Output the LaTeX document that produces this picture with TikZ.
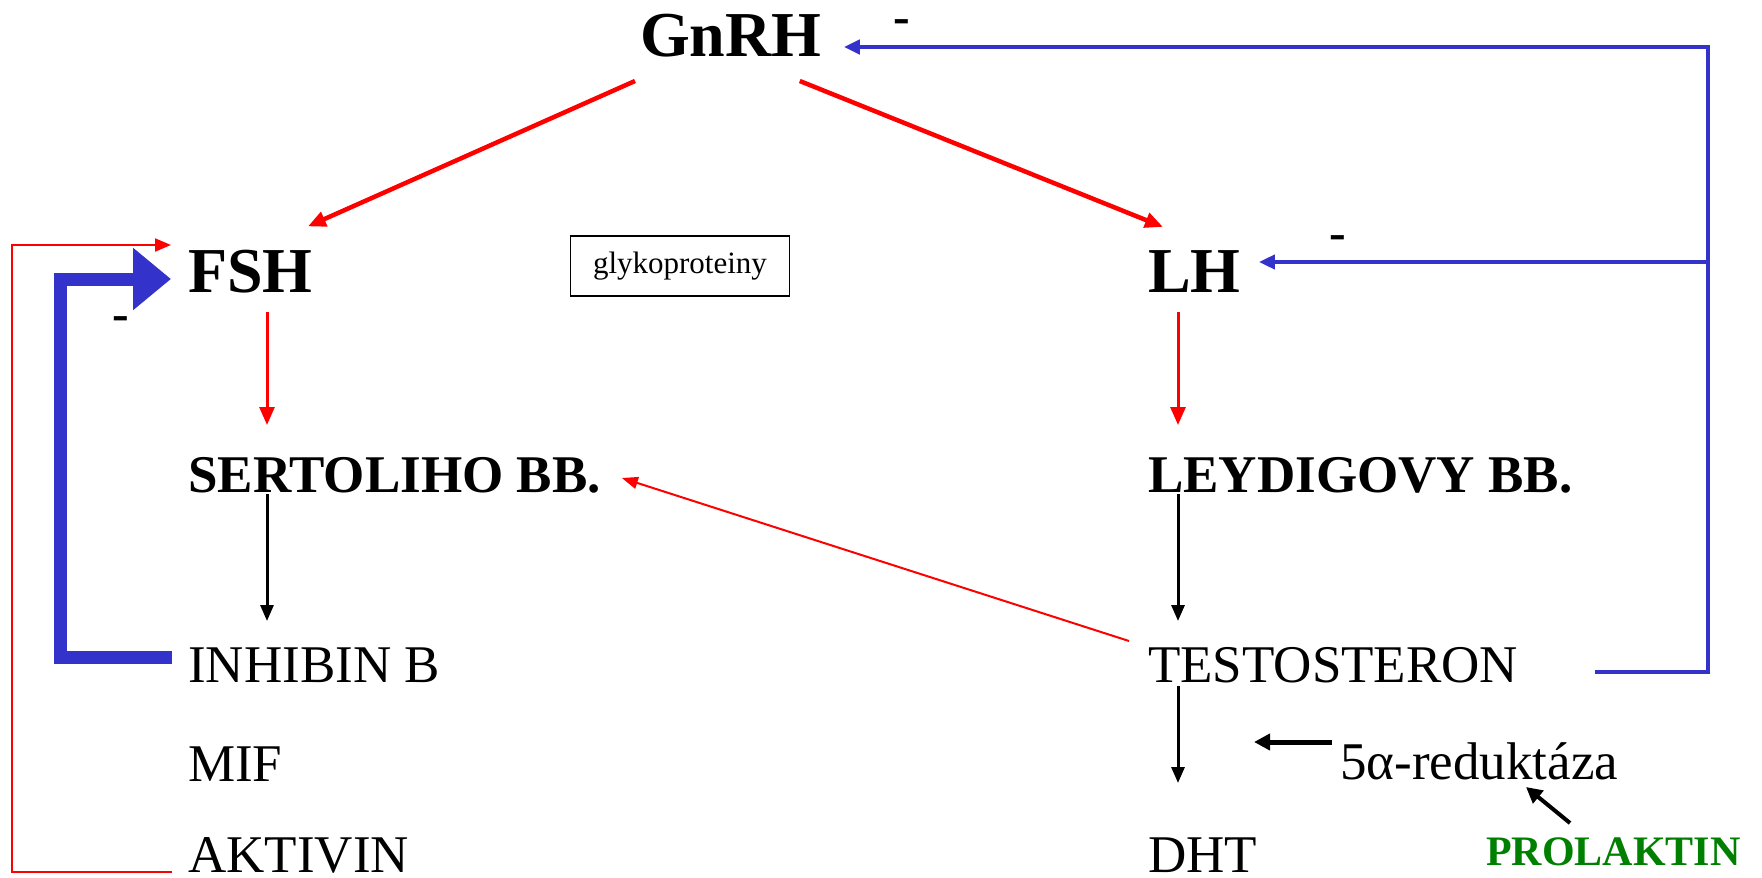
\documentclass[tikz,border=0pt]{standalone}
\usepackage{fontspec}
\setmainfont{Liberation Serif}
\usetikzlibrary{arrows.meta,calc}
\definecolor{fbblue}{RGB}{51,51,204}
\definecolor{prlgreen}{RGB}{0,128,0}
\tikzset{
  hormone/.style={anchor=base west,inner sep=0pt,font=\bfseries\fontsize{64}{64}\selectfont},
  celltext/.style={anchor=base west,inner sep=0pt,font=\bfseries\fontsize{53}{53}\selectfont},
  prodtext/.style={anchor=base west,inner sep=0pt,font=\fontsize{53}{53}\selectfont},
  minussign/.style={inner sep=0pt,font=\bfseries\fontsize{50}{50}\selectfont},
  stimarrow/.style={red,line width=#1,-{Triangle[length=18pt,width=15pt]}},
  fbline/.style={fbblue,line width=4pt},
  blackarrow/.style={black,line width=3pt,-{Triangle[length=16pt,width=13pt]}}
}
\begin{document}
\begin{tikzpicture}[x=1pt,y=-1pt]
\useasboundingbox (0,0) rectangle (1762,878);
\node[hormone] (gnrh) at (640,56) {GnRH};
\node[hormone] (fsh) at (188,292) {FSH};
\node[hormone] (lh) at (1148,292) {LH};
\node[draw,line width=1.2pt,minimum width=219pt,minimum height=60pt,inner sep=0pt,font=\fontsize{31}{31}\selectfont] (glyko) at (680,266) {glykoproteiny};
\node[celltext] (sert) at (188,492) {SERTOLIHO BB.};
\node[celltext] (leyd) at (1148,492) {LEYDIGOVY BB.};
\node[prodtext] (inh) at (188,682) {INHIBIN B};
\node[prodtext] (mif) at (188,781) {MIF};
\node[prodtext] (akt) at (188,872) {AKTIVIN};
\node[prodtext] (test) at (1148,682) {TESTOSTERON};
\node[prodtext] (dht) at (1148,872) {DHT};
\node[prodtext] (red) at (1340,779) {5α-reduktáza};
\node[anchor=base west,inner sep=0pt,text=prlgreen,font=\bfseries\fontsize{42}{42}\selectfont] (prl) at (1486,865) {PROLAKTIN};
\node[minussign] (m1) at (902,27) {-};
\node[minussign] (m2) at (1338,243) {-};
\node[minussign] (m3) at (121,324) {-};
\draw[stimarrow=4.5pt] ($(gnrh.base west)+(-5,25)$) -- ($(fsh.north east)+(-5,-23)$);
\draw[stimarrow=4.5pt] ($(gnrh.base east)+(-22,25)$) -- ($(lh.north west)+(15,-23)$);
\draw[stimarrow=3pt] ($(fsh.base west)+(79,20)$) -- ($(sert.base west)+(79,-67)$);
\draw[stimarrow=3pt] ($(lh.base west)+(30,20)$) -- ($(leyd.base west)+(30,-67)$);
\draw[red,line width=2pt,-{Triangle[length=16pt,width=12pt]}] ($(test.base west)+(-19,-41)$) -- ($(sert.base east)+(21,-14)$);
\draw[red,line width=2pt,-{Triangle[length=16pt,width=13pt]}] ($(akt.base west)+(-16,0)$) -- ++(-160,0) |- ($(fsh.base west)+(-17,-47)$);
\draw[fbblue,line width=13pt,line join=miter,-{Triangle[length=38pt,width=60pt]}] ($(inh.base west)+(-16,-25)$) -- ++(-112,0) |- ($(fsh.base west)+(-17,-13)$);
\draw[blackarrow] ($(sert.base west)+(79,2)$) -- ($(inh.base west)+(79,-61)$);
\draw[blackarrow] ($(leyd.base west)+(30,2)$) -- ($(test.base west)+(30,-61)$);
\draw[blackarrow] ($(test.base west)+(30,4)$) -- ($(dht.base west)+(30,-89)$);
\draw[black,line width=5pt,-{Triangle[length=16pt,width=16pt]}] ($(red.base west)+(-8,-37)$) -- ($(red.base west)+(-86,-37)$);
\draw[black,line width=4pt,-{Triangle[length=16pt,width=16pt]}] ($(prl.base west)+(84,-42)$) -- ($(red.base west)+(186,8)$);
\coordinate (fbtop) at (1708,47);
\draw[fbline,-{Triangle[length=16pt,width=14pt]}] ($(test.base east)+(77,-10)$) -| (fbtop) -- ($(gnrh.base east)+(22,-9)$);
\path ($(lh.base east)+(18,-30)$) coordinate (lhin);
\draw[fbline,-{Triangle[length=16pt,width=14pt]}] (fbtop |- lhin) -- (lhin);
\end{tikzpicture}
\end{document}
